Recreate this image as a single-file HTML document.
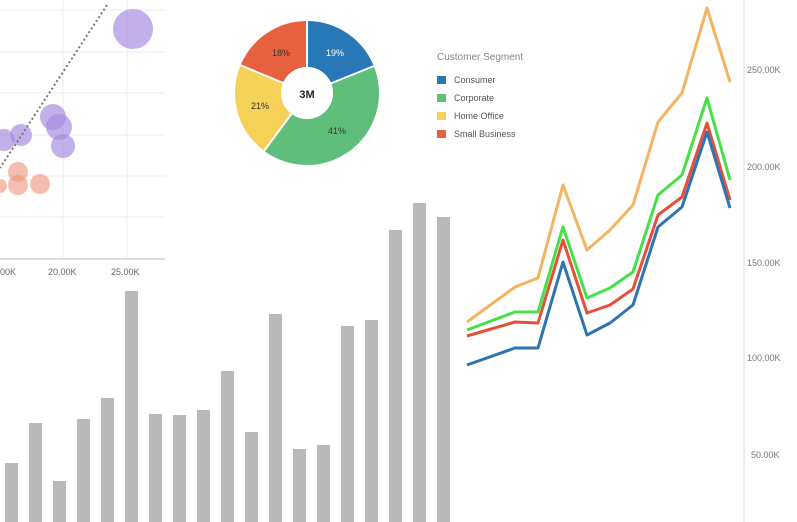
<!DOCTYPE html>
<html><head><style>html,body{margin:0;padding:0;background:#fff}svg{display:block}text{font-family:"Liberation Sans",sans-serif}</style></head>
<body>
<svg width="797" height="522" viewBox="0 0 797 522" xmlns="http://www.w3.org/2000/svg">
<!-- scatter -->
<g stroke="#ececec" stroke-width="1">
<line x1="0" y1="10" x2="165" y2="10"/><line x1="0" y1="52" x2="165" y2="52"/><line x1="0" y1="93" x2="165" y2="93"/><line x1="0" y1="135" x2="165" y2="135"/><line x1="0" y1="176" x2="165" y2="176"/><line x1="0" y1="217" x2="165" y2="217"/>
<line x1="63" y1="0" x2="63" y2="259"/><line x1="127" y1="0" x2="127" y2="259"/>
</g>
<line x1="0" y1="259" x2="165" y2="259" stroke="#cfcfcf" stroke-width="1.5"/>
<g fill="#a98ddf" fill-opacity="0.7">
<circle cx="133" cy="29" r="20"/><circle cx="53" cy="117" r="13"/><circle cx="59" cy="127" r="13"/><circle cx="63" cy="146" r="12"/><circle cx="21" cy="135" r="11"/><circle cx="4" cy="140" r="11"/>
</g>
<g fill="#f0937b" fill-opacity="0.6">
<circle cx="18" cy="172" r="10"/><circle cx="18" cy="185" r="10"/><circle cx="40" cy="184" r="10"/><circle cx="0" cy="186" r="7"/>
</g>
<line x1="107" y1="5" x2="0" y2="168" stroke="#777" stroke-width="2" stroke-dasharray="2,2.5"/>
<g font-size="9" fill="#666"><text x="0" y="275">00K</text><text x="48" y="275">20.00K</text><text x="111" y="275">25.00K</text></g>
<!-- pie -->
<g transform="rotate(-90 307 93)" fill="none" stroke-width="46">
<circle cx="307" cy="93" r="49" stroke="#2878b8" stroke-dasharray="58.5 307.9" stroke-dashoffset="0"/>
<circle cx="307" cy="93" r="49" stroke="#5fbf7a" stroke-dasharray="126.2 307.9" stroke-dashoffset="-58.5"/>
<circle cx="307" cy="93" r="49" stroke="#f6d157" stroke-dasharray="64.7 307.9" stroke-dashoffset="-184.7"/>
<circle cx="307" cy="93" r="49" stroke="#e8613e" stroke-dasharray="58.5 307.9" stroke-dashoffset="-249.4"/>
</g>
<g stroke="#fff" stroke-width="2">
<line x1="307" y1="93" x2="307" y2="20"/><line x1="307" y1="93" x2="374" y2="66"/><line x1="307" y1="93" x2="264" y2="151"/><line x1="307" y1="93" x2="240" y2="65"/>
</g>
<circle cx="307" cy="93" r="26" fill="#fff"/>
<g font-size="9" text-anchor="middle"><text x="335" y="56" fill="#fff">19%</text><text x="337" y="134" fill="#333">41%</text><text x="260" y="109" fill="#333">21%</text><text x="281" y="56" fill="#333">18%</text><text x="307" y="98" font-size="11" font-weight="bold" fill="#222">3M</text></g>
<!-- legend -->
<text x="437" y="60" font-size="10" fill="#888">Customer Segment</text>
<rect x="437" y="76" width="9" height="8" fill="#2878b8"/><rect x="437" y="94" width="9" height="8" fill="#5fbf7a"/><rect x="437" y="112" width="9" height="8" fill="#f6d157"/><rect x="437" y="130" width="9" height="8" fill="#e8613e"/>
<g font-size="9" fill="#555"><text x="454" y="83">Consumer</text><text x="454" y="101">Corporate</text><text x="454" y="119">Home Office</text><text x="454" y="137">Small Business</text></g>
<!-- bars -->
<g fill="#b8b9bb">
<rect x="5" y="463" width="13" height="59"/><rect x="29" y="423" width="13" height="99"/><rect x="53" y="481" width="13" height="41"/><rect x="77" y="419" width="13" height="103"/><rect x="101" y="398" width="13" height="124"/><rect x="125" y="291" width="13" height="231"/><rect x="149" y="414" width="13" height="108"/><rect x="173" y="415" width="13" height="107"/><rect x="197" y="410" width="13" height="112"/><rect x="221" y="371" width="13" height="151"/><rect x="245" y="432" width="13" height="90"/><rect x="269" y="314" width="13" height="208"/><rect x="293" y="449" width="13" height="73"/><rect x="317" y="445" width="13" height="77"/><rect x="341" y="326" width="13" height="196"/><rect x="365" y="320" width="13" height="202"/><rect x="389" y="230" width="13" height="292"/><rect x="413" y="203" width="13" height="319"/><rect x="437" y="217" width="13" height="305"/>
</g>
<!-- lines -->
<line x1="744" y1="0" x2="744" y2="522" stroke="#e6e6e6" stroke-width="1.5"/>
<g font-size="9" fill="#777"><text x="747" y="73">250.00K</text><text x="747" y="170">200.00K</text><text x="747" y="266">150.00K</text><text x="747" y="361">100.00K</text><text x="751" y="458">50.00K</text></g>
<g fill="none" stroke-width="3" stroke-linejoin="round">
<polyline stroke="#f4b460" points="467,322 515,287 538,278 563,185 587,250 610,230 633,205 658,122 682,93 707,8 730,82"/>
<polyline stroke="#45e04a" points="467,330 515,312 538,312 563,227 587,298 610,288 633,272 658,195 682,175 707,98 730,180"/>
<polyline stroke="#e5503a" points="467,336 515,322 538,323 563,240 587,313 610,305 633,289 658,215 682,197 707,123 730,200"/>
<polyline stroke="#2f73b0" points="467,365 515,348 538,348 563,262 587,335 610,323 633,305 658,227 682,207 707,132 730,208"/>
</g>
</svg>
</body></html>
